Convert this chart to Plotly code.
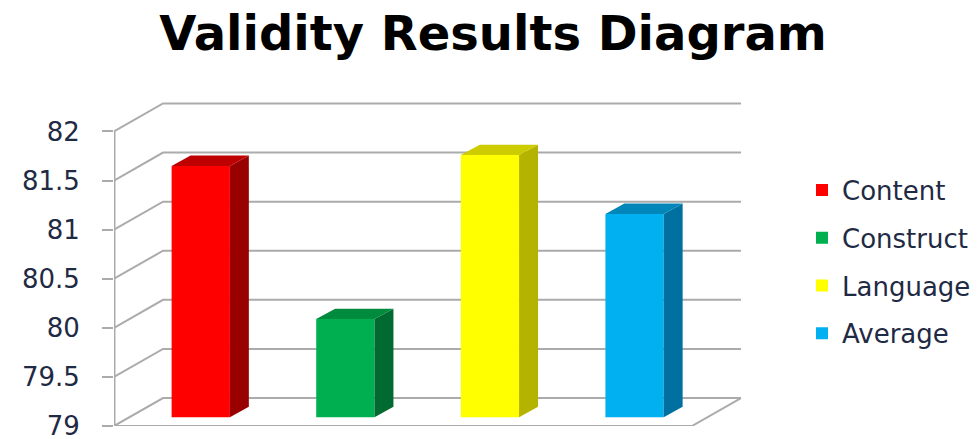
import plotly.graph_objects as go

categories = ["Content", "Construct", "Language", "Average"]
values = [81.56, 80.0, 81.67, 81.07]
front_colors = ["#FF0000", "#00B050", "#FFFF00", "#00B0F0"]
side_colors = ["#990000", "#006A30", "#B3B300", "#0070A0"]
top_colors = ["#BE0000", "#008A3E", "#CCCC00", "#0086B8"]
y_ticks = [79, 79.5, 80, 80.5, 81, 81.5, 82]
y_labels = ["79", "79.5", "80", "80.5", "81", "81.5", "82"]
title_text = "Validity Results Diagram"

Y0, Y1 = 79, 82
X0, X1 = -0.6, 3.397
WALL_DX, WALL_DY = 0.339, 0.285
Y_TOP = 82.3
X_RIGHT = 3.75
BAR_W = 0.403
BAR_DX, BAR_DY = 0.131, 0.106
BAR_SHIFT = 0.089
GRID = "#ABABAB"

fig = go.Figure()

# Wall and floor lines
gx, gy = [], []
for t in y_ticks:
    gx += [X0, X0 + WALL_DX, X1 + WALL_DX, None]
    gy += [t, t + WALL_DY, t + WALL_DY, None]
gx += [X1, X1 + WALL_DX, None, X0, X1]
gy += [Y0, Y0 + WALL_DY, None, Y0, Y0]
fig.add_trace(go.Scatter(x=gx, y=gy, mode="lines", line=dict(color=GRID, width=2),
                         showlegend=False, hoverinfo="skip", cliponaxis=False))
fig.add_trace(go.Scatter(x=[X0, X0], y=[Y0, Y1], mode="lines", line=dict(color=GRID, width=3),
                         showlegend=False, hoverinfo="skip", cliponaxis=False))

# Bars on an overlaid pair of axes, so they cover the wall lines
for i, (c, v) in enumerate(zip(categories, values)):
    fig.add_trace(go.Bar(x=[i], y=[v - Y0], base=Y0, width=BAR_W, name=c, legendgroup=c,
                         marker=dict(color=front_colors[i], line=dict(width=0)),
                         xaxis="x2", yaxis="y2"))
    l, r = i - BAR_W / 2, i + BAR_W / 2
    fig.add_trace(go.Scatter(
        x=[r, r + BAR_DX, r + BAR_DX, r, r],
        y=[Y0, Y0 + BAR_DY, v + BAR_DY, v, Y0],
        mode="lines", fill="toself", fillcolor=side_colors[i], line=dict(width=0),
        showlegend=False, hoverinfo="skip", xaxis="x2", yaxis="y2", cliponaxis=False))
    fig.add_trace(go.Scatter(
        x=[l, l + BAR_DX, r + BAR_DX, r, l],
        y=[v, v + BAR_DY, v + BAR_DY, v, v],
        mode="lines", fill="toself", fillcolor=top_colors[i], line=dict(width=0),
        showlegend=False, hoverinfo="skip", xaxis="x2", yaxis="y2", cliponaxis=False))

fig.update_layout(
    width=979, height=439,
    margin=dict(l=114, r=236, t=101.5, b=13),
    paper_bgcolor="white", plot_bgcolor="white",
    barmode="overlay",
    title=dict(text=title_text, x=493 / 979, xanchor="center", y=0.925, yanchor="middle",
               font=dict(family="DejaVu Sans", size=48, color="#000000", weight="bold")),
    font=dict(family="DejaVu Sans", color="#1F2A44"),
    xaxis=dict(range=[X0, X_RIGHT], showgrid=False, zeroline=False, showticklabels=False, ticks="",
               showline=False, automargin=False),
    yaxis=dict(range=[Y0, Y_TOP], tickmode="array", tickvals=y_ticks, ticktext=y_labels,
               showgrid=False, zeroline=False, showline=False, automargin=False,
               ticks="outside", ticklen=11, tickwidth=2, tickcolor=GRID,
               ticklabelstandoff=17, ticklabeloverflow="allow",
               tickfont=dict(size=26, color="#1F2A44")),
    xaxis2=dict(range=[X0, X_RIGHT], overlaying="x", visible=False),
    yaxis2=dict(range=[Y0 - BAR_SHIFT, Y_TOP - BAR_SHIFT], overlaying="y", visible=False),
    legend=dict(xref="container", yref="container", x=802 / 979, y=1 - 166.5 / 439,
                xanchor="left", yanchor="top", tracegroupgap=11,
                font=dict(size=26, color="#1F2A44"), bgcolor="rgba(0,0,0,0)"),
)

fig.write_html("out.html", config={"displayModeBar": False},
               post_script="document.body.style.margin='0';")
